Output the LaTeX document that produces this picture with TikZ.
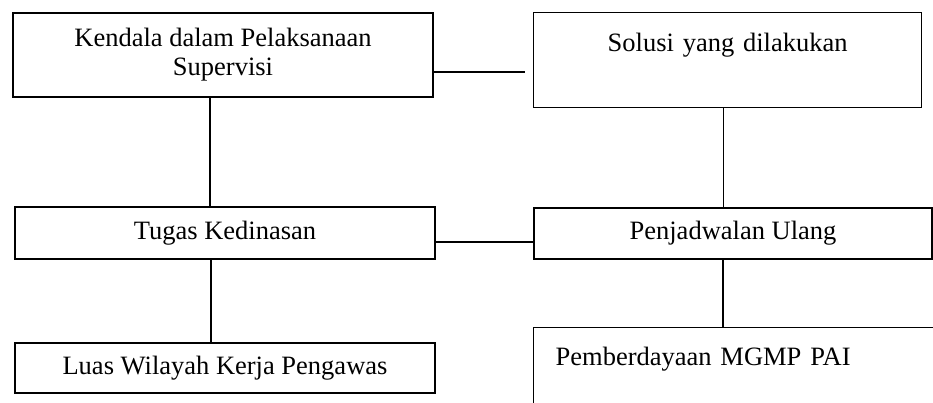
\documentclass[tikz,border=0pt]{standalone}
\usepackage{fontspec}
\setmainfont{Liberation Serif}
\begin{document}
\begin{tikzpicture}[x=1pt,y=-1pt,
  box/.style={draw, line width=1.3pt, inner sep=0pt, align=center,
    font=\fontsize{26.5}{29}\selectfont},
  conn/.style={line width=1.3pt}]
\useasboundingbox (0,0) rectangle (933,403);
\clip (0,0) rectangle (933,403);
% boxes
\node[box, minimum width=420, minimum height=84] (b1) at (223,55)
  {Kendala dalam Pelaksanaan\\Supervisi};
\node[box, anchor=north west, text width=388,
  text height=31, text depth=48, inner ysep=8] (b2) at (533,12)
  {Solusi yang dilakukan};
\node[box, minimum width=420, minimum height=52] (b3) at (225,233)
  {Tugas Kedinasan};
\node[box, minimum width=420, minimum height=50] (b4) at (225,368)
  {\raisebox{-5pt}{Luas Wilayah Kerja Pengawas}};
\node[box, minimum width=398, minimum height=51] (b5) at (733,233.5)
  {\raisebox{-1.5pt}{Penjadwalan Ulang}};
\node[box, anchor=north west, align=left, text width=380, inner xsep=22,
  text height=30, inner ysep=8, text depth=80] (b6) at (533,327)
  {Pemberdayaan MGMP PAI};
% connectors
\coordinate (e1) at (525,72);
\draw[conn] (b1.east |- e1) -- (e1);
\draw[conn] ([xshift=-13pt]b1.south) -- ([xshift=-13pt]b1.south |- b3.north);
\draw[conn] ([xshift=-14pt]b3.south) -- ([xshift=-14pt]b3.south |- b4.north);
\draw[conn] ([yshift=-9pt]b3.east) -- ([yshift=-9pt]b3.east -| b5.west);
\draw[conn] ([xshift=-4pt]b2.south) -- ([xshift=-4pt]b2.south |- b5.north);
\draw[conn] ([xshift=-10pt]b5.south) -- ([xshift=-10pt]b5.south |- b6.north);
\end{tikzpicture}
\end{document}
